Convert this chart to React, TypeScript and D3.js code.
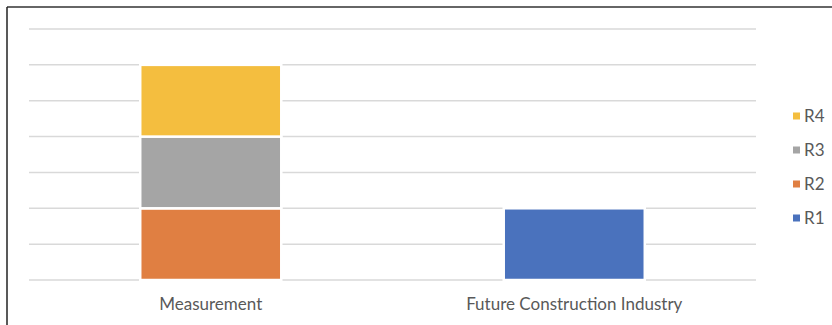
import React from "react";
import * as d3 from "d3";

const categories = ["Measurement", "Future Construction Industry"];
const seriesNames = ["R1", "R2", "R3", "R4"];
const R1 = [0, 2];
const R2 = [2, 0];
const R3 = [2, 0];
const R4 = [2, 0];
const yTicks = [0, 1, 2, 3, 4, 5, 6, 7];
const colors = ["#4472C4", "#ED7D31", "#A5A5A5", "#FFC000"];
const barColors = ["#4a72bd", "#e07f42", "#a5a5a5", "#f4be3f"];

const W = 832;
const H = 325;
const M = { left: 29, right: 76, top: 29, bottom: 45 };

export default function App() {
  const seriesValues = [R1, R2, R3, R4];
  const data = categories.map((c, i) => {
    const o: any = { cat: c };
    seriesNames.forEach((s, j) => (o[s] = seriesValues[j][i]));
    return o;
  });
  const stack = d3.stack<any>().keys(seriesNames)(data);
  const x = d3
    .scaleBand()
    .domain(categories)
    .range([M.left, W - M.right])
    .paddingInner(0.612)
    .paddingOuter(0.306);
  const y = d3.scaleLinear().domain([0, 7]).range([H - M.bottom, M.top]);
  const font = "Lato, 'Open Sans', sans-serif";
  const legendOrder = [...seriesNames].reverse();
  return (
    <svg
      width={W}
      height={H}
      style={{ position: "absolute", left: 0, top: 0, background: "#fff" }}
      fontFamily={font}
    >
      <line x1={7} x2={W} y1={7} y2={7} stroke="#333" strokeWidth={1.5} />
      <line x1={7} x2={7} y1={7} y2={H} stroke="#222" strokeWidth={1.5} />
      {yTicks.map((t) => (
        <line
          key={t}
          x1={M.left}
          x2={W - M.right}
          y1={y(t)}
          y2={y(t)}
          stroke="#d9d9d9"
          strokeWidth={1.5}
        />
      ))}
      {stack.map((layer, si) =>
        layer.map((d, ci) =>
          d[1] - d[0] > 0 ? (
            <rect
              key={si + "-" + ci}
              x={x(categories[ci])}
              width={x.bandwidth()}
              y={y(d[1])}
              height={y(d[0]) - y(d[1])}
              fill={barColors[si]}
              stroke="#fff"
              strokeWidth={2.5}
            />
          ) : null
        )
      )}
      {categories.map((c) => (
        <text
          key={c}
          x={(x(c) as number) + x.bandwidth() / 2}
          y={310}
          textAnchor="middle"
          fontSize={17}
          fill="#595959"
        >
          {c}
        </text>
      ))}
      {legendOrder.map((s, i) => {
        const si = seriesNames.indexOf(s);
        const cy = 116 + i * 34;
        return (
          <g key={s}>
            <rect x={793} y={cy - 3.5} width={7} height={7} fill={barColors[si]} />
            <text x={804} y={cy} dy="0.36em" fontSize={17} fill="#595959">
              {s}
            </text>
          </g>
        );
      })}
    </svg>
  );
}
